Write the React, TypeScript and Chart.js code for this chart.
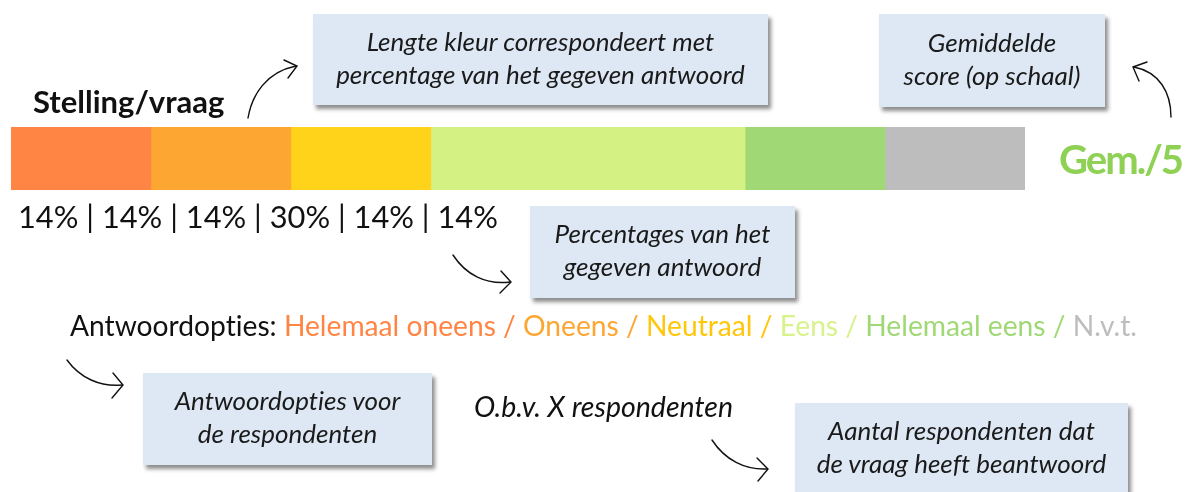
import React, { useEffect, useRef } from "react";
import { Chart, registerables } from "chart.js";

Chart.register(...registerables);

// ---- data ----
const categories = ["Stelling/vraag"];
const answerOptions = ["Helemaal oneens", "Oneens", "Neutraal", "Eens", "Helemaal eens", "N.v.t."];
const shareValues = [13.8, 13.8, 13.8, 31, 13.8, 13.8];
const percentLabels = ["14%", "14%", "14%", "30%", "14%", "14%"];
const segmentColors = ["#ff8544", "#fda631", "#ffd31a", "#d4f184", "#9fd874", "#bdbdbd"];
const legendColors = ["#ff8544", "#fda631", "#ffc60a", "#d8f28c", "#9fd874", "#bdbdbd"];
const averageLabel = "Gem./5";
const respondentsLabel = "O.b.v. X respondenten";

const FONT = "Lato, 'PT Sans', 'Noto Sans', sans-serif";

type BoxProps = { x: number; y: number; w: number; h: number; lines: string[] };
function NoteBox({ x, y, w, h, lines }: BoxProps) {
  return (
    <div
      style={{
        position: "absolute",
        left: x,
        top: y,
        width: w,
        height: h,
        background: "#dde8f4",
        boxShadow: "3px 4px 4px rgba(0,0,0,0.45)",
        display: "flex",
        flexDirection: "column",
        justifyContent: "center",
        alignItems: "center",
        fontFamily: FONT,
        fontStyle: "italic",
        fontSize: 26,
        lineHeight: "33px",
        color: "#1a1a1a",
        whiteSpace: "nowrap",
        fontVariantLigatures: "none",
      }}
    >
      <div style={{ marginTop: -4, textAlign: "center" }}>
        {lines.map((l, i) => (
          <div key={i}>{l}</div>
        ))}
      </div>
    </div>
  );
}

export default function App() {
  const canvasRef = useRef<HTMLCanvasElement | null>(null);

  useEffect(() => {
    document.body.style.margin = "0";
    const ctx = canvasRef.current!.getContext("2d")!;
    const chart = new Chart(ctx, {
      type: "bar",
      data: {
        labels: categories,
        datasets: answerOptions.map((name, i) => ({
          label: name,
          data: [shareValues[i]],
          backgroundColor: segmentColors[i],
          borderWidth: 0,
          barPercentage: 1,
          categoryPercentage: 1,
        })),
      },
      options: {
        indexAxis: "y",
        responsive: false,
        animation: false,
        layout: { padding: { left: 11, right: 172, top: 127, bottom: 302 } },
        plugins: { legend: { display: false }, tooltip: { enabled: false } },
        scales: {
          x: { stacked: true, min: 0, max: 100, display: false },
          y: { stacked: true, display: false },
        },
      },
    });
    return () => chart.destroy();
  }, []);

  const arrowStyle = { fill: "none", stroke: "#111", strokeWidth: 1.4, strokeLinecap: "round" as const };

  return (
    <div style={{ position: "relative", width: 1197, height: 492, overflow: "hidden", background: "#fff", fontFamily: FONT, fontVariantLigatures: "none" }}>
      <canvas ref={canvasRef} width={1197} height={492} style={{ position: "absolute", left: 0, top: 0 }} />

      <div style={{ position: "absolute", left: 33, top: 86, fontSize: 31, fontWeight: 700, lineHeight: 1, color: "#111", whiteSpace: "nowrap" }}>
        {categories[0]}
      </div>

      <div style={{ position: "absolute", left: 1059, top: 139, fontSize: 40, fontWeight: 700, letterSpacing: -2, lineHeight: 1, color: "#8fd155", whiteSpace: "nowrap" }}>
        {averageLabel}
      </div>

      <div style={{ position: "absolute", left: 18, top: 202, fontSize: 30.8, lineHeight: 1, color: "#111", whiteSpace: "nowrap" }}>
        {percentLabels.join(" | ")}
      </div>

      <div style={{ position: "absolute", left: 70, top: 311, fontSize: 28.2, lineHeight: 1, color: "#111", whiteSpace: "nowrap" }}>
        {"Antwoordopties: "}
        {answerOptions.map((o, i) => (
          <span key={i} style={{ color: legendColors[i] }}>
            {o}
            {i < answerOptions.length - 1 ? " / " : ""}
          </span>
        ))}
      </div>

      <div style={{ position: "absolute", left: 474, top: 392, fontSize: 28.5, fontStyle: "italic", lineHeight: 1, color: "#111", whiteSpace: "nowrap" }}>
        {respondentsLabel}
      </div>

      <NoteBox x={313} y={14} w={455} h={91} lines={["Lengte kleur correspondeert met", "percentage van het gegeven antwoord"]} />
      <NoteBox x={879} y={14} w={226} h={93} lines={["Gemiddelde", "score (op schaal)"]} />
      <NoteBox x={530} y={206} w={265} h={92} lines={["Percentages van het", "gegeven antwoord"]} />
      <NoteBox x={143} y={373} w={289} h={92} lines={["Antwoordopties voor", "de respondenten"]} />
      <NoteBox x={795} y={403} w={333} h={92} lines={["Aantal respondenten dat", "de vraag heeft beantwoord"]} />

      <svg width={1197} height={492} style={{ position: "absolute", left: 0, top: 0, pointerEvents: "none" }}>
        <path d="M248,118 C252,95 266,72 296,66" style={arrowStyle} />
        <path d="M284,60 L297,66 L288,78" style={arrowStyle} />
        <path d="M1171,117 C1171,92 1159,72 1134,67" style={arrowStyle} />
        <path d="M1147,62 L1133,67 L1139,81" style={arrowStyle} />
        <path d="M453,255 C466,275 486,285 510,282" style={arrowStyle} />
        <path d="M501,271 L511,282 L500,293" style={arrowStyle} />
        <path d="M67,360 C80,378 100,387 122,385" style={arrowStyle} />
        <path d="M113,373 L123,385 L112,398" style={arrowStyle} />
        <path d="M712,440 C725,460 745,470 767,469" style={arrowStyle} />
        <path d="M757,458 L768,469 L758,481" style={arrowStyle} />
      </svg>
    </div>
  );
}
